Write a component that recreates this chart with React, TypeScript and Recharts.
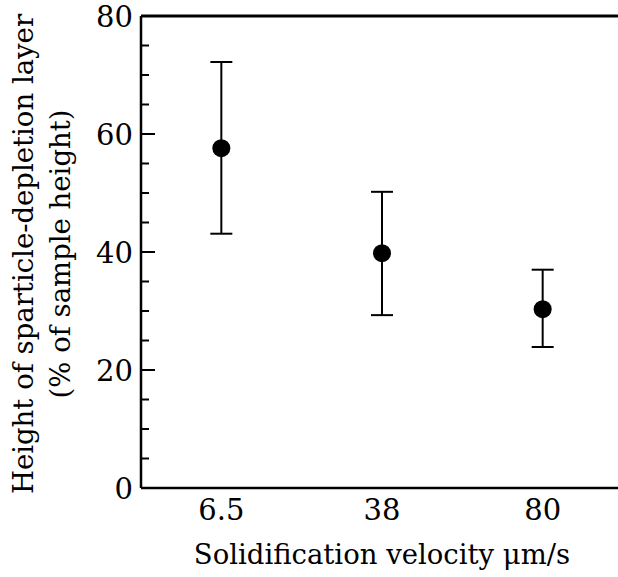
import React from 'react'
import { ComposedChart, Line, XAxis, YAxis, ErrorBar, ReferenceLine, Label } from 'recharts'

// solidification velocity (µm/s) categories
const velocities = ['6.5', '38', '80']
// depletion layer height, % of sample height
const meanHeight = [57.6, 39.8, 30.3]
const upperHeight = [72.2, 50.2, 37.0]
const lowerHeight = [43.1, 29.3, 23.9]

const yTicks = [0, 5, 10, 15, 20, 25, 30, 35, 40, 45, 50, 55, 60, 65, 70, 75, 80]
const yLabelTicks = [0, 20, 40, 60, 80]

const data = velocities.map((v, i) => ({
  velocity: v,
  height: meanHeight[i],
  err: [meanHeight[i] - lowerHeight[i], upperHeight[i] - meanHeight[i]],
}))

const FONT = '"DejaVu Serif", serif'

const YTick = (props: any) => {
  const { x, y, payload } = props
  const major = yLabelTicks.includes(payload.value)
  return (
    <g>
      <line x1={x} x2={x + (major ? 14 : 8)} y1={y} y2={y} stroke="#000" strokeWidth={2} />
      {major && (
        <text x={x - 8} y={y} dy="0.38em" textAnchor="end" fontFamily={FONT} fontSize={29} fill="#000">
          {payload.value}
        </text>
      )}
    </g>
  )
}

const YTitle = (props: any) => {
  const vb = props.viewBox || { y: 16, height: 472 }
  const cy = vb.y + vb.height / 2 + 2
  return (
    <text transform={`translate(0, ${cy}) rotate(-90)`} textAnchor="middle" fontFamily={FONT} fontSize={27.5} fill="#000">
      <tspan x={0} y={33}>Height of sparticle-depletion layer</tspan>
      <tspan x={0} y={70}>(% of sample height)</tspan>
    </text>
  )
}

export default function App() {
  return (
    <div style={{ position: 'absolute', left: 0, top: 0, width: 618, height: 577, overflow: 'hidden', background: '#fff' }}>
      <ComposedChart width={623} height={577} data={data} margin={{ top: 16, right: 0, bottom: 0, left: 0 }}>
        <XAxis
          dataKey="velocity"
          type="category"
          scale="band"
          height={89}
          tickLine={false}
          tickSize={0}
          tickMargin={11}
          axisLine={{ stroke: '#000', strokeWidth: 2.5 }}
          tick={{ fill: '#000', fontFamily: FONT, fontSize: 29 }}
        >
          <Label
            value="Solidification velocity μm/s"
            position="insideBottom"
            offset={13}
            fill="#000"
            fontFamily={FONT}
            fontSize={27.5}
          />
        </XAxis>
        <YAxis
          type="number"
          domain={[0, 80]}
          ticks={yTicks}
          interval={0}
          width={141}
          tickLine={false}
          tickSize={0}
          tickMargin={0}
          axisLine={{ stroke: '#000', strokeWidth: 2.5 }}
          tick={<YTick />}
        >
          <Label content={<YTitle />} />
        </YAxis>
        <ReferenceLine y={80} stroke="#000" strokeWidth={3} />
        <Line
          dataKey="height"
          stroke="none"
          dot={{ r: 9, fill: '#000', stroke: '#000', strokeWidth: 0 }}
          activeDot={false}
          isAnimationActive={false}
        >
          <ErrorBar dataKey="err" direction="y" width={11} stroke="#000" strokeWidth={2} />
        </Line>
      </ComposedChart>
    </div>
  )
}
